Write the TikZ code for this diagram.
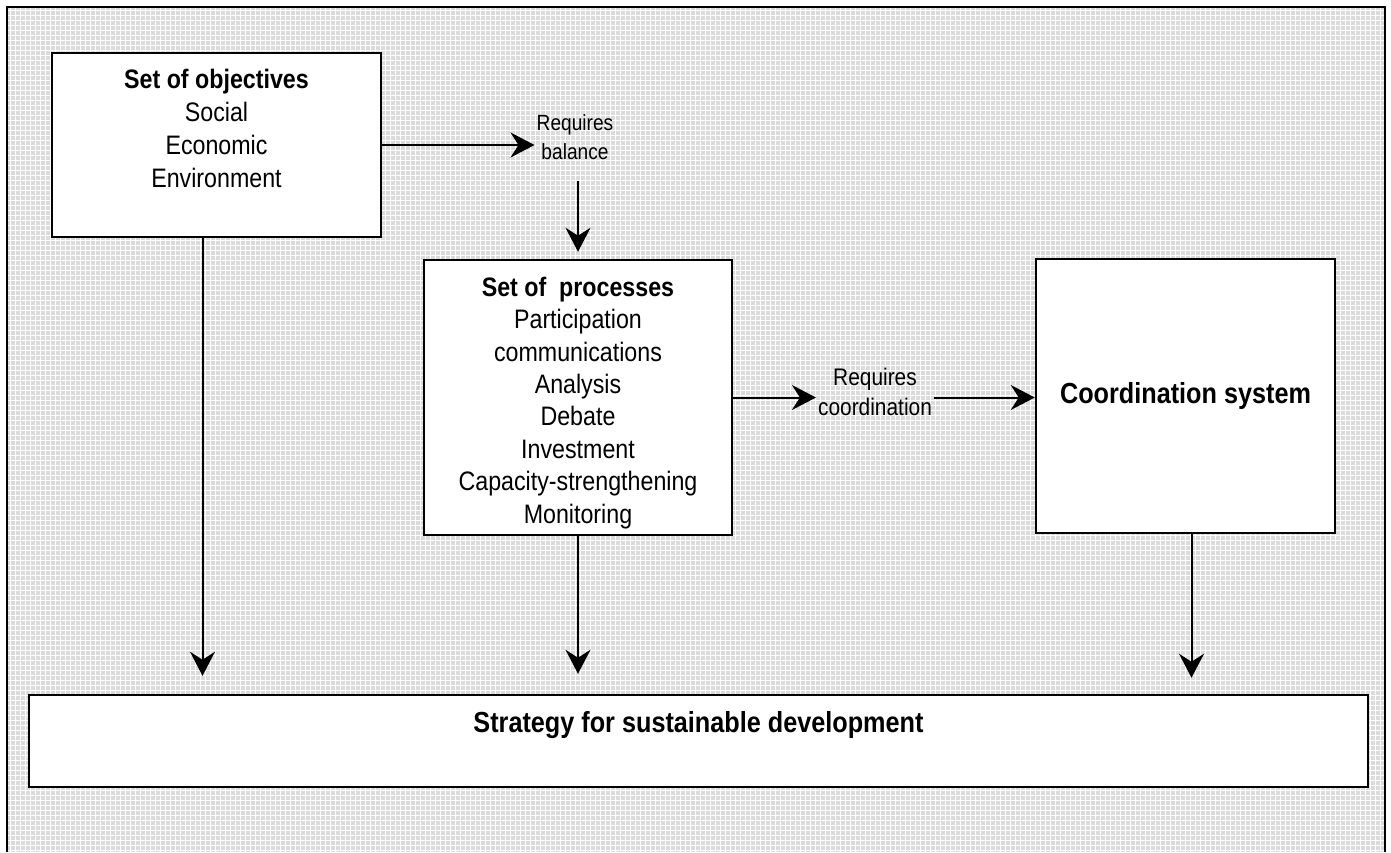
\documentclass[tikz,border=0pt]{standalone}
\usepackage{fontspec}
\setmainfont{Liberation Sans}[FakeStretch=0.87]
\usetikzlibrary{arrows.meta, positioning}

\begin{document}
\begin{tikzpicture}[
        x=1pt, y=-1pt,
        node distance=10pt,
        box/.style={
            rectangle, draw=black, line width=2.5pt, fill=white, inner sep=0pt
        },
        txt/.style={align=center, inner sep=0pt, font=\fontsize{26.7}{33}\selectfont},
        note/.style={align=center, inner sep=2pt, font=\fontsize{22}{29}\selectfont},
        arrow/.style={-{Stealth[length=24pt, width=25pt, inset=8pt]}, line width=2pt}
    ]
        \useasboundingbox (0,0) rectangle (1391,852);

        % Background and frame
        \fill[black!14] (7,7) rectangle (1385,852);
        \draw[white, line width=1pt, step=5pt] (7,7) grid (1385,852);
        \draw[line width=2.5pt] (7,852) -- (7,7) -- (1385,7) -- (1385,852);

        % Top row
        \node[box, minimum width=329pt, minimum height=184pt] (obj) at (216.5,145) {};
        \node[txt, below=17pt of obj.north] (objtxt) {\textbf{Set of objectives}\\Social\\Economic\\Environment};
        \node[note] (bal) at (575,137.5) {Requires\\balance};

        % Middle row
        \node[box, minimum width=308pt, minimum height=275pt] (procs) at (578,397.5) {};
        \node[txt, font=\fontsize{26.7}{32.4}\selectfont, below=18pt of procs.north] (procstxt)
            {\textbf{Set of\ \ processes}\\Participation\\communications\\Analysis\\Debate\\Investment\\Capacity-strengthening\\Monitoring};
        \node[note, font=\fontsize{24}{30}\selectfont] (crd) at (875,392) {Requires\\coordination};
        \node[box, font=\bfseries\fontsize{29}{34}\selectfont, minimum width=299pt, minimum height=274pt] (sys) at (1185.5,396) {Coordination system};

        % Bottom
        \node[box, minimum width=1339pt, minimum height=92pt] (strat) at (698.5,741) {};
        \node[txt, font=\bfseries\fontsize{29}{34}\selectfont, below=18pt of strat.north] (strattxt) {Strategy for sustainable development};

        % Flow arrows
        \draw[arrow] (obj.east) -- (obj.east -| bal.west);
        \draw[arrow, shorten <=19pt, shorten >=7pt] (bal.south -| procs.north) -- (procs.north);
        \draw[arrow] (procs.east) -- (procs.east -| crd.west);
        \draw[arrow] (crd.east |- procs.east) -- (sys.west |- procs.east);

        % Down to strategy
        \draw[arrow, shorten >=18pt] ([xshift=-14pt]obj.south) -- ([xshift=-14pt]obj.south |- strat.north);
        \draw[arrow, shorten >=20pt] (procs.south) -- (procs.south |- strat.north);
        \draw[arrow, shorten >=16pt] ([xshift=6pt]sys.south) -- ([xshift=6pt]sys.south |- strat.north);

    \end{tikzpicture}
\end{document}
